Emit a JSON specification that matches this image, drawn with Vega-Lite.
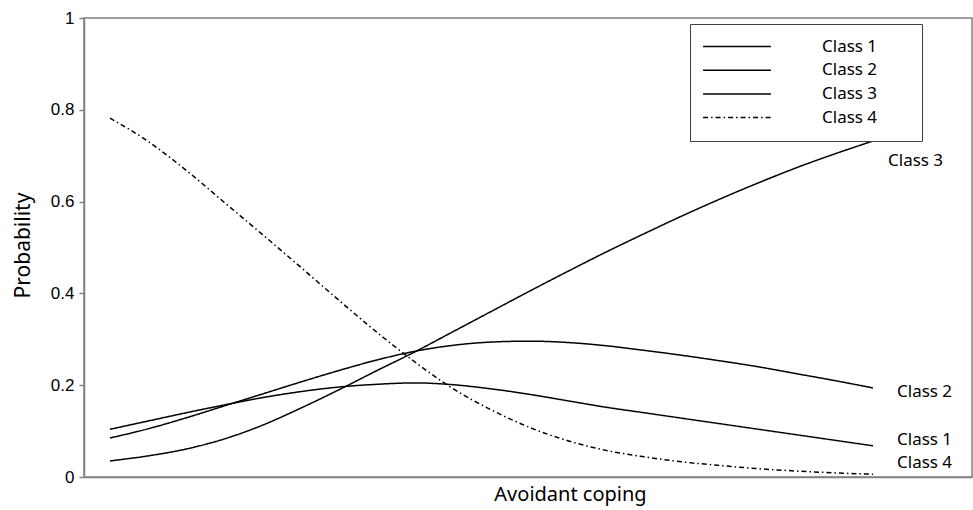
{
  "$schema": "https://vega.github.io/schema/vega-lite/v6.json",
  "width": 888,
  "height": 459,
  "autosize": {"type": "none"},
  "padding": {"left": 84, "top": 18, "right": 1, "bottom": 33},
  "background": "white",
  "config": {"view": {"stroke": "#808080", "strokeWidth": 1.5}, "font": "Noto Sans"},
  "datasets": {
    "curves": [
      {"x": 0, "class": "Class 1", "p": 0.104}, {"x": 1, "class": "Class 1", "p": 0.122}, {"x": 2, "class": "Class 1", "p": 0.140}, {"x": 3, "class": "Class 1", "p": 0.157}, {"x": 4, "class": "Class 1", "p": 0.173}, {"x": 5, "class": "Class 1", "p": 0.186}, {"x": 6, "class": "Class 1", "p": 0.196}, {"x": 7, "class": "Class 1", "p": 0.202}, {"x": 8, "class": "Class 1", "p": 0.205}, {"x": 9, "class": "Class 1", "p": 0.201}, {"x": 10, "class": "Class 1", "p": 0.192}, {"x": 11, "class": "Class 1", "p": 0.180}, {"x": 12, "class": "Class 1", "p": 0.166}, {"x": 13, "class": "Class 1", "p": 0.152}, {"x": 14, "class": "Class 1", "p": 0.140}, {"x": 15, "class": "Class 1", "p": 0.128}, {"x": 16, "class": "Class 1", "p": 0.116}, {"x": 17, "class": "Class 1", "p": 0.104}, {"x": 18, "class": "Class 1", "p": 0.092}, {"x": 19, "class": "Class 1", "p": 0.080}, {"x": 20, "class": "Class 1", "p": 0.068},
      {"x": 0, "class": "Class 2", "p": 0.085}, {"x": 1, "class": "Class 2", "p": 0.105}, {"x": 2, "class": "Class 2", "p": 0.129}, {"x": 3, "class": "Class 2", "p": 0.155}, {"x": 4, "class": "Class 2", "p": 0.181}, {"x": 5, "class": "Class 2", "p": 0.207}, {"x": 6, "class": "Class 2", "p": 0.232}, {"x": 7, "class": "Class 2", "p": 0.255}, {"x": 8, "class": "Class 2", "p": 0.274}, {"x": 9, "class": "Class 2", "p": 0.287}, {"x": 10, "class": "Class 2", "p": 0.294}, {"x": 11, "class": "Class 2", "p": 0.296}, {"x": 12, "class": "Class 2", "p": 0.293}, {"x": 13, "class": "Class 2", "p": 0.286}, {"x": 14, "class": "Class 2", "p": 0.276}, {"x": 15, "class": "Class 2", "p": 0.265}, {"x": 16, "class": "Class 2", "p": 0.253}, {"x": 17, "class": "Class 2", "p": 0.240}, {"x": 18, "class": "Class 2", "p": 0.225}, {"x": 19, "class": "Class 2", "p": 0.210}, {"x": 20, "class": "Class 2", "p": 0.194},
      {"x": 0, "class": "Class 3", "p": 0.035}, {"x": 1, "class": "Class 3", "p": 0.046}, {"x": 2, "class": "Class 3", "p": 0.061}, {"x": 3, "class": "Class 3", "p": 0.083}, {"x": 4, "class": "Class 3", "p": 0.113}, {"x": 5, "class": "Class 3", "p": 0.150}, {"x": 6, "class": "Class 3", "p": 0.190}, {"x": 7, "class": "Class 3", "p": 0.232}, {"x": 8, "class": "Class 3", "p": 0.273}, {"x": 9, "class": "Class 3", "p": 0.317}, {"x": 10, "class": "Class 3", "p": 0.361}, {"x": 11, "class": "Class 3", "p": 0.405}, {"x": 12, "class": "Class 3", "p": 0.448}, {"x": 13, "class": "Class 3", "p": 0.490}, {"x": 14, "class": "Class 3", "p": 0.530}, {"x": 15, "class": "Class 3", "p": 0.569}, {"x": 16, "class": "Class 3", "p": 0.606}, {"x": 17, "class": "Class 3", "p": 0.641}, {"x": 18, "class": "Class 3", "p": 0.674}, {"x": 19, "class": "Class 3", "p": 0.704}, {"x": 20, "class": "Class 3", "p": 0.732},
      {"x": 0, "class": "Class 4", "p": 0.782}, {"x": 1, "class": "Class 4", "p": 0.731}, {"x": 2, "class": "Class 4", "p": 0.668}, {"x": 3, "class": "Class 4", "p": 0.598}, {"x": 4, "class": "Class 4", "p": 0.528}, {"x": 5, "class": "Class 4", "p": 0.457}, {"x": 6, "class": "Class 4", "p": 0.385}, {"x": 7, "class": "Class 4", "p": 0.315}, {"x": 8, "class": "Class 4", "p": 0.250}, {"x": 9, "class": "Class 4", "p": 0.192}, {"x": 10, "class": "Class 4", "p": 0.146}, {"x": 11, "class": "Class 4", "p": 0.108}, {"x": 12, "class": "Class 4", "p": 0.079}, {"x": 13, "class": "Class 4", "p": 0.058}, {"x": 14, "class": "Class 4", "p": 0.044}, {"x": 15, "class": "Class 4", "p": 0.033}, {"x": 16, "class": "Class 4", "p": 0.025}, {"x": 17, "class": "Class 4", "p": 0.018}, {"x": 18, "class": "Class 4", "p": 0.013}, {"x": 19, "class": "Class 4", "p": 0.009}, {"x": 20, "class": "Class 4", "p": 0.006}
    ]
  },
  "data": {"name": "curves"},
  "encoding": {
    "x": {
      "field": "x", "type": "quantitative",
      "scale": {"domain": [-0.6815, 22.595], "nice": false, "zero": false},
      "axis": {"title": "Avoidant coping", "labels": false, "ticks": false, "grid": false, "domainColor": "#808080", "domainWidth": 1.5, "titleFont": "Noto Sans", "titleFontSize": 20, "titleFontWeight": "normal", "titleColor": "black", "titleX": 486, "titleY": 23, "titleBaseline": "alphabetic"}
    },
    "y": {
      "field": "p", "type": "quantitative",
      "scale": {"domain": [0, 1], "nice": false},
      "axis": {"title": "Probability", "values": [0, 0.2, 0.4, 0.6, 0.8, 1], "format": "~g", "grid": false, "tickSize": 5, "tickColor": "#808080", "tickWidth": 1.5, "domainColor": "#808080", "domainWidth": 1.5, "labelFont": "Liberation Sans", "labelFontSize": 17, "labelColor": "black", "labelPadding": 5, "titleFont": "Noto Sans", "titleFontSize": 21, "titleFontWeight": "normal", "titleColor": "black", "titleX": -55, "titleY": 227, "titleBaseline": "alphabetic"}
    }
  },
  "layer": [
    {
      "mark": {"type": "line", "interpolate": "monotone", "color": "black", "strokeWidth": 1.5},
      "encoding": {
        "strokeDash": {
          "field": "class", "type": "nominal",
          "scale": {"domain": ["Class 1", "Class 2", "Class 3", "Class 4"], "range": [[1, 0], [1, 0], [1, 0], [5, 3, 1.5, 3]]},
          "legend": {"orient": "none", "legendX": 606, "legendY": 6, "title": " ", "titleOrient": "right", "titlePadding": 33, "titleFontSize": 17, "symbolType": "stroke", "symbolSize": 4600, "symbolStrokeWidth": 1.5, "symbolStrokeColor": "black", "clipHeight": 21, "rowPadding": 2.7, "padding": 12, "strokeColor": "#404040", "fillColor": "white", "labelFont": "Noto Sans", "labelFontSize": 17, "labelColor": "black", "labelOffset": 50}
        }
      }
    },
    {
      "transform": [{"filter": "datum['class'] === 'Class 3' && datum.x === 20"}],
      "mark": {"type": "text", "align": "left", "baseline": "middle", "dx": 15, "dy": 20, "font": "Noto Sans", "fontSize": 17, "color": "black"},
      "encoding": {"text": {"field": "class"}}
    },
    {
      "transform": [{"filter": "datum['class'] === 'Class 2' && datum.x === 20"}],
      "mark": {"type": "text", "align": "left", "baseline": "middle", "dx": 24, "dy": 4, "font": "Noto Sans", "fontSize": 17, "color": "black"},
      "encoding": {"text": {"field": "class"}}
    },
    {
      "transform": [{"filter": "datum['class'] === 'Class 1' && datum.x === 20"}],
      "mark": {"type": "text", "align": "left", "baseline": "middle", "dx": 24, "dy": -6, "font": "Noto Sans", "fontSize": 17, "color": "black"},
      "encoding": {"text": {"field": "class"}}
    },
    {
      "transform": [{"filter": "datum['class'] === 'Class 4' && datum.x === 20"}],
      "mark": {"type": "text", "align": "left", "baseline": "middle", "dx": 24, "dy": -11, "font": "Noto Sans", "fontSize": 17, "color": "black"},
      "encoding": {"text": {"field": "class"}}
    }
  ]
}
